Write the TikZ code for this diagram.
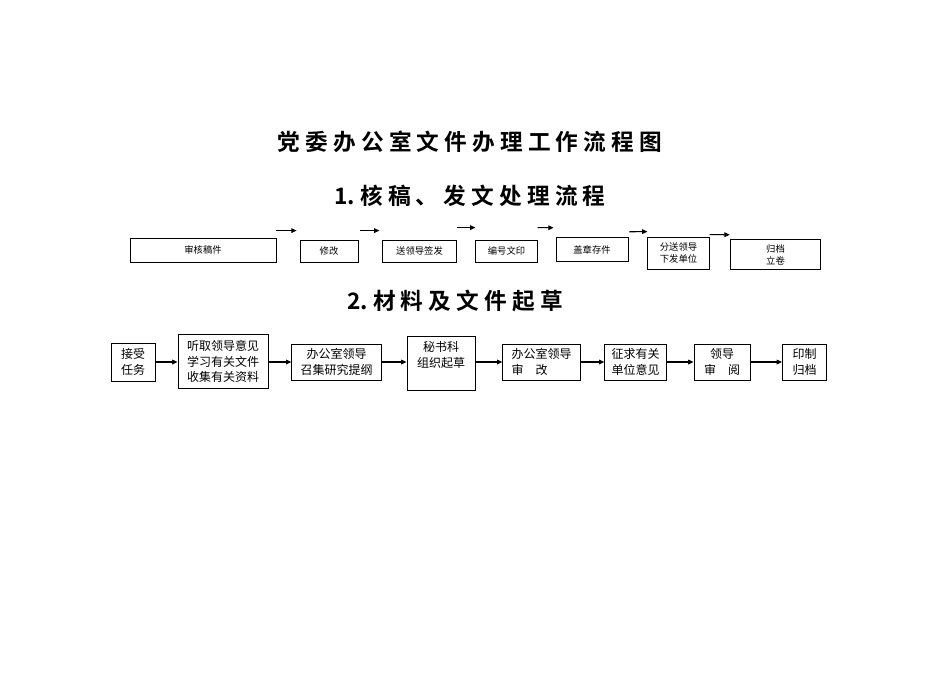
\documentclass[tikz,border=0pt]{standalone}
\usepackage{fontspec}
\newfontfamily\cjk{Noto Sans CJK SC}
\newfontfamily\cjkb{Noto Sans CJK SC Bold}
\usetikzlibrary{calc,arrows.meta}
\begin{document}
\begin{tikzpicture}[x=0.75pt,y=-0.75pt,
  b1/.style={draw,line width=0.6pt,font=\cjk\fontsize{7}{9}\selectfont,align=center,inner sep=0pt},
  b2/.style={draw,line width=0.7pt,font=\cjk\fontsize{9}{11.5}\selectfont,align=center,inner sep=0pt},
  ar/.style={-{Triangle[length=4pt,width=3.5pt]},line width=0.8pt},
  ttl/.style={font=\cjkb\fontsize{17}{20}\selectfont}]
\useasboundingbox (0,0) rectangle (950,672);
\node[ttl] (t1) at (470,142) {党\ 委\ 办\ 公\ 室\ 文\ 件\ 办\ 理\ 工\ 作\ 流\ 程\ 图};
\node[ttl] (t2) at (470,196) {1.\ 核\ 稿\ 、\ 发\ 文\ 处\ 理\ 流\ 程};
\node[ttl] (t3) at (455,301) {2.\ 材\ 料\ 及\ 文\ 件\ 起\ 草};
% row 1
\node[b1,minimum width=109.5pt,minimum height=18pt] (a1) at (203,250) {审核稿件};
\node[b1,minimum width=43.5pt,minimum height=16.5pt] (a2) at (329,251) {修改};
\node[b1,minimum width=55pt,minimum height=16.5pt] (a3) at (419.5,251) {送领导签发};
\node[b1,minimum width=46pt,minimum height=16.5pt] (a4) at (506.5,251) {编号文印};
\node[b1,minimum width=54pt,minimum height=18.5pt] (a5) at (592,249.5) {盖章存件};
\node[b1,minimum width=46pt,minimum height=24pt] (a6) at (678.5,253) {分送领导\\下发单位};
\node[b1,minimum width=68pt,minimum height=23pt] (a7) at (775.5,254.5) {归档\\立卷};
\draw[ar] ($(a1.north east)+(0,-7)$) -- ($(a2.north west)+(-3,-9)$);
\draw[ar] ($(a2.north east)+(2,-9)$) -- ($(a3.north west)+(-3,-9)$);
\draw[ar] ($(a3.north east)+(0,-12)$) -- ($(a4.north west)+(0,-12)$);
\draw[ar] ($(a4.north east)+(0,-12)$) -- ($(a5.north west)+(-2,-9)$);
\draw[ar] ($(a5.north east)+(1,-5)$) -- ($(a6.north west)+(0,-5)$);
\draw[ar] ($(a6.north east)+(0,-2)$) -- ($(a7.north west)+(0,-4)$);
% row 2
\node[b2,minimum width=33pt,minimum height=28.5pt] (c1) at (133,362) {接受\\任务};
\node[b2,minimum width=67.5pt,minimum height=40pt] (c2) at (223,361.5) {听取领导意见\\学习有关文件\\收集有关资料};
\node[b2,minimum width=67pt,minimum height=27pt] (c3) at (336.5,362) {办公室领导\\召集研究提纲};
\node[b2,minimum width=51pt,minimum height=40.5pt,anchor=north] (c4) at (441,336) {};
\node[font=\cjk\fontsize{9}{11.5}\selectfont,align=center] at (441,355) {秘书科\\组织起草};
\node[b2,minimum width=58pt,minimum height=27pt,align=left] (c5) at (541.5,362) {办公室领导\\审\quad 改};
\node[b2,minimum width=46pt,minimum height=27pt] (c6) at (635.5,362) {征求有关\\单位意见};
\node[b2,minimum width=42pt,minimum height=27pt] (c7) at (722,362) {领导\\审\quad 阅};
\node[b2,minimum width=33pt,minimum height=27pt] (c8) at (804.5,362) {印制\\归档};
\foreach \p/\q in {c1/c2,c2/c3,c3/c4,c4/c5,c5/c6,c6/c7,c7/c8}
  \draw[ar] (\p.east|-0,362) -- (\q.west|-0,362);
\end{tikzpicture}
\end{document}
